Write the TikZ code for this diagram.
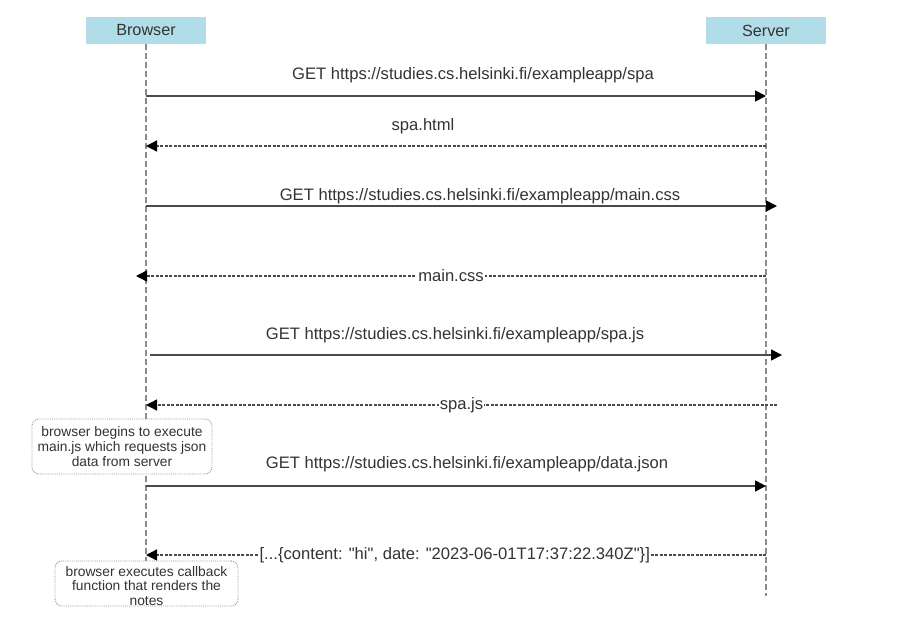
\documentclass[tikz,border=0pt]{standalone}
\usepackage{fontspec}
\setmainfont{Liberation Sans}[Ligatures=TeXOff]
\usetikzlibrary{arrows.meta}
\definecolor{actorfill}{HTML}{B1DDE9}
\definecolor{ink}{HTML}{333333}
\definecolor{lifegray}{HTML}{8A8A8A}
\definecolor{msggray}{HTML}{4A4A4A}
\definecolor{notegray}{HTML}{9A9A9A}
\begin{document}
\begin{tikzpicture}[x=1pt,y=-1pt,
  actor/.style={fill=actorfill, minimum width=120pt, minimum height=27pt,
    inner sep=0pt, text=ink, font=\fontsize{16.2}{19}\selectfont},
  lifeline/.style={draw=lifegray, line width=2pt, dash pattern=on 6pt off 3pt},
  tip/.style={-{Triangle[length=11pt,width=11pt,color=black]}},
  request/.style={tip, draw=msggray, line width=1.6pt},
  reply/.style={tip, draw=msggray, line width=1.4pt, dash pattern=on 3pt off 1.5pt},
  msglabel/.style={text=ink, inner sep=1pt, font=\fontsize{16.6}{19}\selectfont},
  onlabel/.style={msglabel, fill=white},
  notebox/.style={draw=notegray, densely dotted, line width=0.9pt, rounded corners=7pt,
    fill=white, inner sep=0pt},
  notetext/.style={text=ink, align=center, inner sep=0pt,
    font=\fontsize{13.8}{14.8}\selectfont}
]
\useasboundingbox (0,0) rectangle (907,640);

% participants
\node[actor] (browser) at (146,30.5) {Browser};
\node[actor] (server)  at (766,30.5) {Server};

% lifelines
\coordinate (bEnd) at (146,561);
\coordinate (sEnd) at (766,596);
\draw[lifeline] (browser.south) -- (bEnd);
\draw[lifeline] (server.south) -- (sEnd);

% message end points
\coordinate (b1) at (146,96);   \coordinate (s1) at (766,96);
\coordinate (b2) at (146,146);  \coordinate (s2) at (766,146);
\coordinate (b3) at (146,206);  \coordinate (s3) at (777,206);
\coordinate (b4) at (136,276);  \coordinate (s4) at (766,276);
\coordinate (b5) at (150,355);  \coordinate (s5) at (782,355);
\coordinate (b6) at (146,405);  \coordinate (s6) at (777,405);
\coordinate (b7) at (146,486);  \coordinate (s7) at (766,486);
\coordinate (b8) at (146,555);  \coordinate (s8) at (766,555);

% GET spa
\draw[request] (b1) -- (s1);
\node[msglabel] (l1) at (473,75) {GET https://studies.cs.helsinki.fi/exampleapp/spa};

% spa.html
\draw[reply] (s2) -- (b2);
\node[msglabel] (l2) at (423,126) {spa.html};

% GET main.css
\draw[request] (b3) -- (s3);
\node[msglabel] (l3) at (480,196) {GET https://studies.cs.helsinki.fi/exampleapp/main.css};

% main.css
\draw[reply] (s4) -- (b4) node[onlabel, pos=0.5] (l4) {main.css};

% GET spa.js
\draw[request] (b5) -- (s5);
\node[msglabel] (l5) at (455,335) {GET https://studies.cs.helsinki.fi/exampleapp/spa.js};

% spa.js
\draw[reply] (s6) -- (b6) node[onlabel, pos=0.5] (l6) {spa.js};

% note: script execution
\node[notebox, minimum width=180pt, minimum height=55pt] (note1) at (122,446.5) {};
\node[notetext] (note1text) at (note1.center)
  {browser begins to execute\\main.js which requests json\\data from server};

% GET data.json
\draw[request] (b7) -- (s7);
\node[msglabel] (l7) at (467,464) {GET https://studies.cs.helsinki.fi/exampleapp/data.json};

% data.json reply
\draw[reply] (s8) -- (b8) node[onlabel, pos=0.502] (l8)
  {[...\{content: "hi", date: "2023-06-01T17:37:22.340Z"\}]};

% note: callback
\node[notebox, minimum width=183pt, minimum height=45pt] (note2) at (146.5,583.5) {};
\node[notetext] (note2text) at (146.5,586)
  {browser executes callback\\function that renders the\\notes};
\end{tikzpicture}
\end{document}
